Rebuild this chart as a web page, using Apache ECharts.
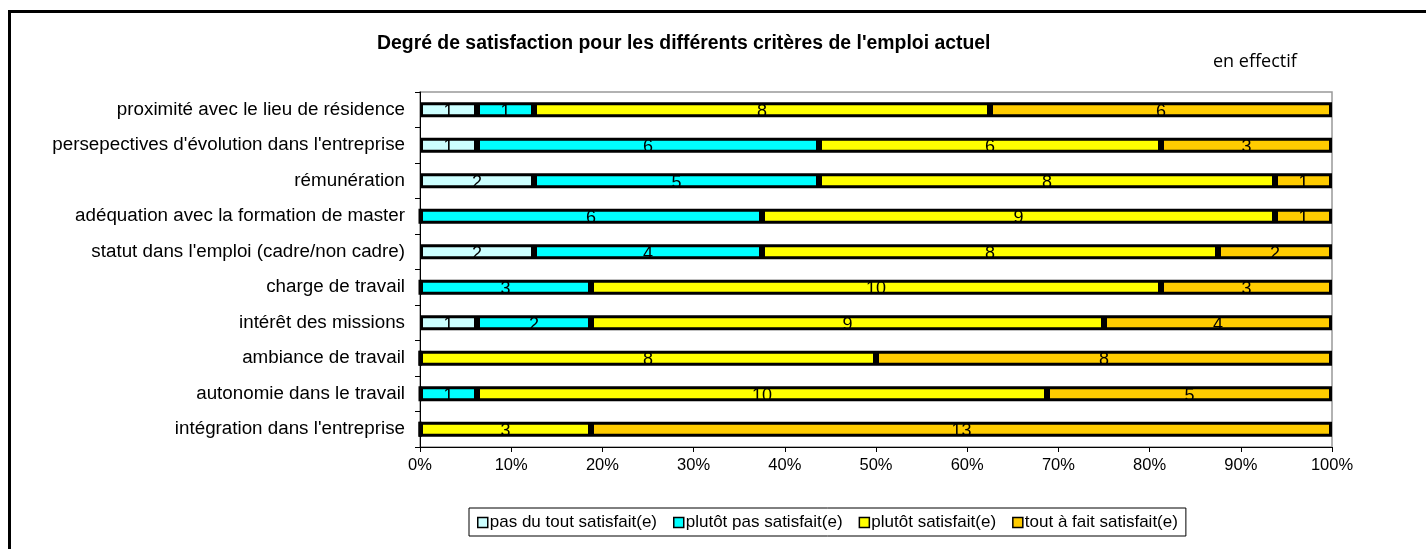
<!DOCTYPE html>
<html>
<head>
<meta charset="utf-8">
<script src="https://cdn.jsdelivr.net/npm/echarts@6/dist/echarts.min.js"></script>
<style>
    html, body { margin: 0; padding: 0; background: #fff; }
    #chart { width: 1426px; height: 549px; }
</style>
</head>
<body>
<div id="chart"></div>
<script>
// categories listed bottom -> top (category axis starts at the bottom)
const categories = [
    "intégration dans l'entreprise",
    "autonomie dans le travail",
    "ambiance de travail",
    "intérêt des missions",
    "charge de travail",
    "statut dans l'emploi (cadre/non cadre)",
    "adéquation avec la formation de master",
    "rémunération",
    "persepectives d'évolution dans l'entreprise",
    "proximité avec le lieu de résidence"
]

const seriesNames = [
    'pas du tout satisfait(e)',
    'plutôt pas satisfait(e)',
    'plutôt satisfait(e)',
    'tout à fait satisfait(e)'
]

// counts (effectif), same order as categories
const pasDuTout = [0, 0, 0, 1, 0, 2, 0, 2, 1, 1]
const plutotPas = [0, 1, 0, 2, 3, 4, 6, 5, 6, 1]
const plutotSatisfait = [3, 10, 8, 9, 10, 8, 9, 8, 6, 8]
const toutAFait = [13, 5, 8, 4, 3, 2, 1, 1, 3, 6]

const colors = ['#ccffff', '#00ffff', '#ffff00', '#ffcc00']

const counts = [pasDuTout, plutotPas, plutotSatisfait, toutAFait]
const totals = categories.map((c, i) => counts.reduce((s, arr) => s + arr[i], 0))

const font = 'Liberation Sans, Arial, sans-serif'

const myChart = echarts.init(document.getElementById('chart'))

const option = {
    animation: false,
    textStyle: { fontFamily: font },
    title: {
        text: "Degré de satisfaction pour les différents critères de l'emploi actuel",
        left: 372,
        top: 29,
        textStyle: { fontSize: 19.4, fontWeight: 'bold', color: '#000', fontFamily: font }
    },
    graphic: [
        {
            type: 'rect',
            shape: { x: 9.5, y: 11.5, width: 1500, height: 600 },
            style: { fill: 'none', stroke: '#000', lineWidth: 3 },
            silent: true
        },
        {
            type: 'text',
            left: 1213,
            top: 53,
            style: { text: 'en effectif', fontSize: 18, fill: '#000', fontFamily: 'Open Sans, sans-serif' }
        }
    ],
    legend: {
        left: 469,
        top: 508,
        width: 900,
        padding: [6, 8, 5, 8],
        borderColor: '#000',
        borderWidth: 1,
        itemWidth: 10,
        itemHeight: 10,
        itemGap: 16,
        icon: 'rect',
        itemStyle: { borderColor: '#000', borderWidth: 1.5 },
        textStyle: { fontSize: 17, color: '#000', fontFamily: font, padding: [0, 0, 0, -3] },
        data: seriesNames
    },
    grid: {
        left: 420,
        right: 94,
        top: 92,
        bottom: 102,
        show: true,
        borderColor: '#999',
        borderWidth: 1.5,
        containLabel: false
    },
    xAxis: {
        type: 'value',
        min: 0,
        max: 100,
        interval: 10,
        axisLine: { show: true, lineStyle: { color: '#000', width: 1 } },
        axisTick: { show: true, length: 5, lineStyle: { color: '#000' } },
        splitLine: { show: false },
        axisLabel: { formatter: '{value}%', fontSize: 16.5, color: '#000', margin: 10 }
    },
    yAxis: {
        type: 'category',
        data: categories,
        axisLine: { show: true, lineStyle: { color: '#000', width: 1 } },
        axisTick: { show: true, length: 5, lineStyle: { color: '#000' } },
        axisLabel: { fontSize: 18.8, color: '#000', margin: 15 }
    },
    series: seriesNames.map((name, k) => ({
        name: name,
        type: 'bar',
        stack: 'total',
        barWidth: 15,
        itemStyle: { color: colors[k], borderColor: '#000', borderWidth: 3 },
        label: {
            show: true,
            position: 'inside',
            color: '#000',
            fontSize: 18,
            offset: [0, 2],
            formatter: p => counts[k][p.dataIndex] === 0 ? '' : String(counts[k][p.dataIndex])
        },
        data: counts[k].map((v, i) => v / totals[i] * 100)
    }))
}

myChart.setOption(option)
</script>
</body>
</html>
